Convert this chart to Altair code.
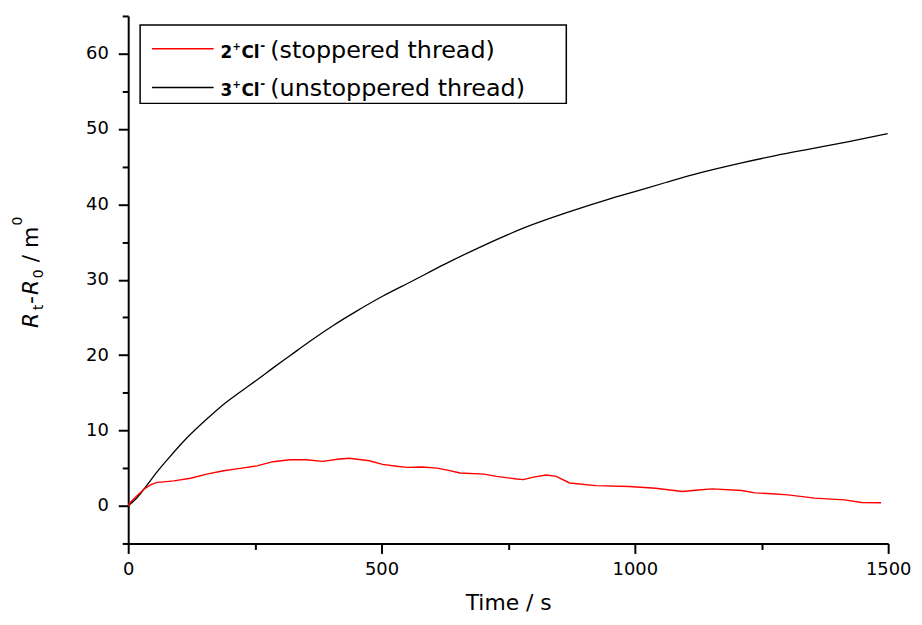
import altair as alt
import pandas as pd

# ---- data ----
red_t = [0, 5, 18, 31, 45, 57, 75, 90, 123, 155, 188, 221, 254, 286, 319, 351, 384, 417, 436,
         476, 502, 530, 551, 580, 610, 632, 655, 702, 727, 767, 780, 800, 825, 845, 871, 923,
         989, 1041, 1094, 1125, 1153, 1211, 1237, 1270, 1302, 1355, 1414, 1447, 1486]
red_v = [0, 0.5, 1.36, 2.2, 2.8, 3.1, 3.2, 3.3, 3.65, 4.2, 4.65, 4.97, 5.3, 5.85, 6.1, 6.1, 5.9,
         6.2, 6.3, 5.98, 5.5, 5.25, 5.1, 5.15, 5.0, 4.7, 4.35, 4.2, 3.9, 3.56, 3.47, 3.8, 4.08,
         3.9, 3.03, 2.68, 2.55, 2.33, 1.89, 2.1, 2.24, 2.02, 1.71, 1.6, 1.45, 1.01, 0.79, 0.44, 0.40]

black_t = [0, 15, 31, 57, 77, 110, 155, 188, 221, 254, 286, 319, 358, 404, 450, 502, 560, 623,
           700, 786, 870, 949, 1000, 1061, 1130, 1211, 1280, 1342, 1420, 1499]
black_v = [0, 0.9, 2.2, 4.5, 6.1, 8.6, 11.5, 13.45, 15.1, 16.7, 18.3, 19.9, 21.8, 23.9, 25.8,
           27.8, 29.8, 32.0, 34.5, 37.0, 39.0, 40.7, 41.7, 42.9, 44.2, 45.5, 46.5, 47.3, 48.3, 49.4]

x_ticks = [0, 500, 1000, 1500]
x_minor = [250, 750, 1250]
y_ticks = [0, 10, 20, 30, 40, 50, 60]
y_minor = [-5, 5, 15, 25, 35, 45, 55, 65]

x_title = "Time / s"
legend_bold = ["2", "3"]
legend_rest = ["(stoppered thread)", "(unstoppered thread)"]

red_df = pd.DataFrame({"t": red_t, "v": red_v})
black_df = pd.DataFrame({"t": black_t, "v": black_v})
one = pd.DataFrame({"k": [0]})

FONT = "DejaVu Sans"
RED = "#ff0000"

xs = alt.Scale(domain=[0, 1500], nice=False, zero=False)
ys = alt.Scale(domain=[-5, 65], nice=False, zero=False)

major_x = alt.Axis(values=x_ticks, format="d", tickSize=10, tickWidth=2, domainWidth=2,
                   labelPadding=7, labelFontSize=18, labelFont=FONT, labelFlush=False,
                   labelOverlap=False, title=x_title, titleFont=FONT, titleFontSize=22,
                   titleFontWeight="normal", titlePadding=14, grid=False, orient="bottom")
major_y = alt.Axis(values=y_ticks, format="d", tickSize=10, tickWidth=2, domainWidth=2,
                   labelPadding=10, labelFontSize=18, labelFont=FONT, labelFlush=False,
                   labelOverlap=False, title=None, grid=False, orient="left")

black_line = alt.Chart(black_df).mark_line(color="black", strokeWidth=1.3,
                                           interpolate="monotone").encode(
    x=alt.X("t:Q", scale=xs, axis=major_x),
    y=alt.Y("v:Q", scale=ys, axis=major_y),
)
red_line = alt.Chart(red_df).mark_line(color=RED, strokeWidth=1.4).encode(
    x=alt.X("t:Q", scale=xs, axis=None),
    y=alt.Y("v:Q", scale=ys, axis=None),
)

minor_layer = alt.Chart(black_df).mark_point(opacity=0).encode(
    x=alt.X("t:Q", scale=xs, axis=alt.Axis(values=x_minor, orient="bottom", labels=False,
                                            domain=False, grid=False, tickSize=6, tickWidth=2,
                                            title=None)),
    y=alt.Y("v:Q", scale=ys, axis=alt.Axis(values=y_minor, orient="left", labels=False,
                                            domain=False, grid=False, tickSize=6, tickWidth=2,
                                            title=None)),
)


def txt(s, x, y, size, weight="normal", style="normal", angle=0):
    return alt.Chart(one).mark_text(
        text=s, align="left", baseline="alphabetic", font=FONT, fontSize=size,
        fontWeight=weight, fontStyle=style, angle=angle, color="black"
    ).encode(x=alt.value(x), y=alt.value(y))


# legend
box = alt.Chart(one).mark_rect(fill="white", stroke="black", strokeWidth=1.5).encode(
    x=alt.value(12), x2=alt.value(441), y=alt.value(9), y2=alt.value(88))
leg_red = alt.Chart(one).mark_rule(color=RED, strokeWidth=1.5).encode(
    x=alt.value(24), x2=alt.value(86), y=alt.value(33))
leg_black = alt.Chart(one).mark_rule(color="black", strokeWidth=1.3).encode(
    x=alt.value(24), x2=alt.value(86), y=alt.value(72))

legend_layers = [box, leg_red, leg_black]
for i, base in enumerate([42, 81]):
    legend_layers += [
        txt(legend_bold[i], 93, base, 17, weight="bold"),
        txt("+", 105, base - 8, 10, weight="bold"),
        txt("Cl", 114, base, 17, weight="bold"),
        txt("-", 133, base - 8, 12, weight="bold"),
        txt(legend_rest[i], 143, base, 24),
    ]

# y-axis title: R_t - R_0 / m^0 (rotated)
ytitle = [
    txt("R", -90.5, 314, 22, style="italic", angle=270),
    txt("t", -86, 296, 14, angle=270),
    txt("-", -90.5, 290, 22, angle=270),
    txt("R", -90.5, 281, 22, style="italic", angle=270),
    txt("0", -86, 264, 14, angle=270),
    txt("/ m", -90.5, 248, 22, angle=270),
    txt("0", -107, 211, 14, angle=270),
]

chart = alt.layer(
    minor_layer, black_line, red_line, *legend_layers, *ytitle
).resolve_axis(x="independent", y="independent").properties(
    width=765, height=531,
    autosize=alt.AutoSizeParams(type="none"),
    padding={"left": 121, "top": 6, "right": 26, "bottom": 70},
).configure_view(stroke=None).configure_axis(
    domainColor="black", tickColor="black", labelColor="black", titleColor="black"
)

chart.save("out.html", embed_options={"renderer": "svg", "actions": False})
